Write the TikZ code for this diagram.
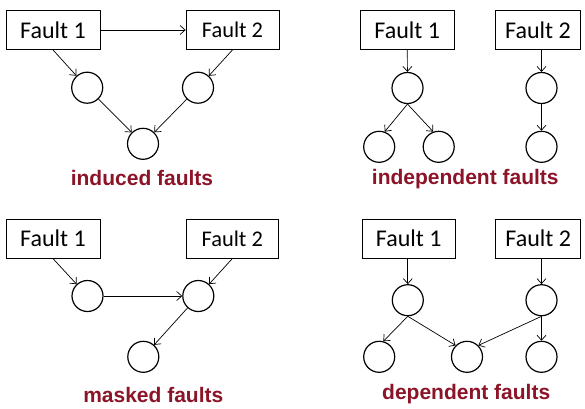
\documentclass[tikz,border=0pt]{standalone}
\usepackage{fontspec}
\setmainfont{Carlito}
\newfontfamily\labelfont{Liberation Sans}
\usetikzlibrary{arrows.meta}
\definecolor{darkred}{RGB}{140,20,40}
\begin{document}
\begin{tikzpicture}[x=1pt,y=-1pt,
  faultbox/.style={draw, line width=0.8pt, inner sep=0pt, minimum height=39pt, font=\fontsize{24}{24}\selectfont},
  ev/.style={draw, circle, line width=1.2pt, minimum size=31pt, inner sep=0pt},
  arr/.style={line width=0.7pt, -{Straight Barb[length=5pt,width=9pt,line width=0.7pt]}},
  captext/.style={font=\labelfont\bfseries\fontsize{21}{21}\selectfont, text=darkred}]
\useasboundingbox (0,0) rectangle (585,408);
% ---- induced faults ----
\node[faultbox, minimum width=94pt] (a1) at (53,30) {Fault 1};
\node[faultbox, minimum width=93pt, font=\fontsize{22.4}{22.4}\selectfont] (a2) at (232.5,30) {Fault 2};
\node[ev] (ac1) at (87.2,87.7) {};
\node[ev] (ac2) at (198,87.7) {};
\node[ev] (ac3) at (143,143.8) {};
\node[captext] (al) at (142,178) {induced faults};
\draw[arr] (a1) -- (a2);
\draw[arr] (a1.south) -- (ac1);
\draw[arr] (a2.south) -- (ac2);
\draw[arr] (ac1) -- (ac3);
\draw[arr] (ac2) -- (ac3);
% ---- independent faults ----
\node[faultbox, minimum width=94pt] (b1) at (407.3,30) {Fault 1};
\node[faultbox, minimum width=85.5pt] (b2) at (538,30) {Fault 2};
\node[ev] (bc1) at (407.5,88) {};
\node[ev] (bc2) at (379.2,146.8) {};
\node[ev] (bc3) at (438.7,146.8) {};
\node[ev] (bc4) at (541.5,88) {};
\node[ev] (bc5) at (541.5,146.8) {};
\node[captext] (bl) at (465.3,179) {independent faults};
\draw[arr] (b1.south) -- (bc1);
\draw[arr] (bc1.south) -- (bc2.70);
\draw[arr] (bc1.south) -- (bc3.110);
\draw[arr] (b2.south -| bc4) -- (bc4);
\draw[arr] (bc4) -- (bc5);
% ---- masked faults ----
\node[faultbox, minimum width=94pt] (c1) at (53,238.7) {Fault 1};
\node[faultbox, minimum width=92.7pt, font=\fontsize{22.4}{22.4}\selectfont] (c2) at (232.3,238.7) {Fault 2};
\node[ev] (cc1) at (87.5,296) {};
\node[ev] (cc2) at (198.3,296) {};
\node[ev] (cc3) at (143.3,356.8) {};
\node[captext] (cl) at (153.3,394.8) {masked faults};
\draw[arr] (c1.south) -- (cc1);
\draw[arr] (cc1) -- (cc2);
\draw[arr] (c2.south) -- (cc2);
\draw[arr] (cc2) -- (cc3);
% ---- dependent faults ----
\node[faultbox, minimum width=93.3pt] (d1) at (408.7,238.7) {Fault 1};
\node[faultbox, minimum width=85pt] (d2) at (538.3,238.7) {Fault 2};
\node[ev] (dc1) at (407.8,300.2) {};
\node[ev] (dc2) at (541.5,300.2) {};
\node[ev] (dc3) at (379.2,356.8) {};
\node[ev] (dc4) at (467,356.8) {};
\node[ev] (dc5) at (541.5,356.8) {};
\node[captext] (dl) at (466.2,394) {dependent faults};
\draw[arr] (d1.south -| dc1) -- (dc1);
\draw[arr] (d2.south -| dc2) -- (dc2);
\draw[arr] (dc1.south) -- (dc3.75);
\draw[arr] (dc1.south) -- (dc4.135);
\draw[arr] (dc2.south) -- (dc4.45);
\draw[arr] (dc2) -- (dc5);
\end{tikzpicture}
\end{document}
